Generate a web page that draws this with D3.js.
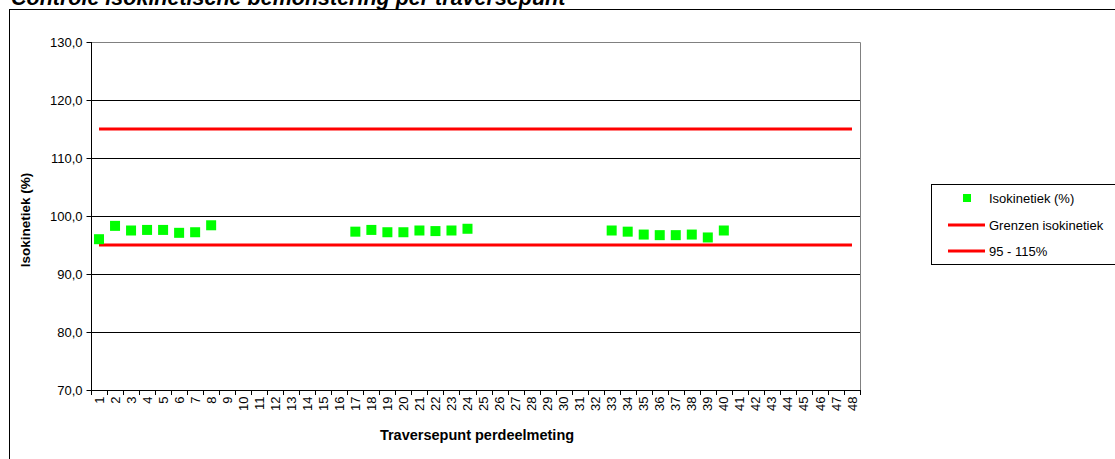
<!DOCTYPE html>
<html><head><meta charset="utf-8">
<script src="https://cdn.jsdelivr.net/npm/d3@7"></script>
<style>body{margin:0;background:#fff;}svg{display:block;font-family:"Liberation Sans",Arial,sans-serif;}</style>
</head><body>
<svg id="c" width="1115" height="459"></svg>
<script>
const categories = d3.range(1, 49).map(String);
const pointNumbers = [1,2,3,4,5,6,7,8,17,18,19,20,21,22,23,24,33,34,35,36,37,38,39,40];
const isoValues = [96.0,98.3,97.5,97.6,97.6,97.1,97.2,98.4,97.3,97.6,97.2,97.2,97.5,97.4,97.5,97.8,97.5,97.3,96.8,96.7,96.7,96.8,96.3,97.5];
const limitValues = [115, 95];
const yTicks = [70,80,90,100,110,120,130];
const legendLabels = ["Isokinetiek (%)", "Grenzen isokinetiek", "95 - 115%"];

const svg = d3.select("#c");
const L = 91, R = 860, T = 42, B = 390;
const x = d3.scaleBand().domain(categories).range([L, R]);
const y = d3.scaleLinear().domain([70, 130]).range([B, T]);
const fmt = v => d3.format(".1f")(v).replace(".", ",");
const FF = "Liberation Sans, Arial, sans-serif";

// outer border
svg.append("rect").attr("x", 9.5).attr("y", 9.5).attr("width", 1120).attr("height", 460)
  .attr("fill", "none").attr("stroke", "#000").attr("stroke-width", 1);
// title
svg.append("text").attr("x", 11).attr("y", 5).attr("font-size", 21.5).attr("font-weight", "bold")
  .attr("font-style", "italic").text("Controle isokinetische bemonstering per traversepunt");

// gridlines
svg.append("g").selectAll("line").data(yTicks.filter(v => v > 70 && v < 130)).join("line")
  .attr("x1", L).attr("x2", R).attr("y1", d => Math.round(y(d)) + 0.5).attr("y2", d => Math.round(y(d)) + 0.5)
  .attr("stroke", "#000").attr("stroke-width", 1);
// plot border top/right
svg.append("path").attr("d", `M${L},${T + 0.5}H${R + 0.5}V${B}`).attr("fill", "none").attr("stroke", "#808080");

// y axis
const ya = d3.axisLeft(y).tickValues(yTicks).tickFormat(fmt).tickSize(5).tickPadding(4);
const gy = svg.append("g").attr("transform", `translate(${L + 0.5},0)`).call(ya);
gy.select(".domain").attr("stroke", "#000").attr("d", `M0,${T}V${B}`);
gy.selectAll("text").attr("font-size", 13).attr("font-family", FF).attr("fill", "#000");

// x axis
const xa = d3.axisBottom(x).tickSize(0).tickPadding(0);
const gx = svg.append("g").attr("transform", `translate(0,${B + 0.5})`).call(xa);
gx.select(".domain").attr("d", `M${L},0H${R}`).attr("stroke", "#000");
gx.selectAll(".tick text").attr("font-size", 13).attr("font-family", FF).attr("fill", "#000")
  .attr("transform", "rotate(-90)").attr("text-anchor", "end").attr("x", -6).attr("y", 0).attr("dy", "0.35em");
// tick marks between categories
svg.append("g").selectAll("line").data(d3.range(49)).join("line")
  .attr("x1", i => Math.round(L + i * x.step()) + 0.5).attr("x2", i => Math.round(L + i * x.step()) + 0.5)
  .attr("y1", B).attr("y2", B + 5).attr("stroke", "#000");

// axis titles
svg.append("text").attr("transform", `translate(30,${(T + B) / 2 + 4}) rotate(-90)`).attr("text-anchor", "middle")
  .attr("font-size", 13.5).attr("font-weight", "bold").text("Isokinetiek (%)");
svg.append("text").attr("x", 477).attr("y", 440).attr("text-anchor", "middle")
  .attr("font-size", 14.5).attr("font-weight", "bold").text("Traversepunt perdeelmeting");

// limit lines
const cx = c => x(String(c)) + x.bandwidth() / 2;
svg.append("g").selectAll("line").data(limitValues).join("line")
  .attr("x1", cx(1)).attr("x2", cx(48)).attr("y1", d => y(d)).attr("y2", d => y(d))
  .attr("stroke", "#ff0000").attr("stroke-width", 3);

// markers
const ms = 10;
svg.append("g").selectAll("rect").data(pointNumbers.map((p, i) => [p, isoValues[i]])).join("rect")
  .attr("x", d => cx(d[0]) - ms / 2).attr("y", d => y(d[1]) - ms / 2).attr("width", ms).attr("height", ms)
  .attr("fill", "#00ff00");

// legend
const lg = svg.append("g");
lg.append("rect").attr("x", 931.5).attr("y", 184.5).attr("width", 200).attr("height", 80)
  .attr("fill", "#fff").attr("stroke", "#000");
const ly = [198, 225, 251];
lg.append("rect").attr("x", 963).attr("y", ly[0] - 4).attr("width", 8).attr("height", 8).attr("fill", "#00ff00");
[1, 2].forEach(i => lg.append("line").attr("x1", 948).attr("x2", 985).attr("y1", ly[i]).attr("y2", ly[i])
  .attr("stroke", "#ff0000").attr("stroke-width", 3));
legendLabels.forEach((t, i) => lg.append("text").attr("x", 989).attr("y", ly[i]).attr("dy", "0.35em")
  .attr("font-size", 13).text(t));
</script>
</body></html>
